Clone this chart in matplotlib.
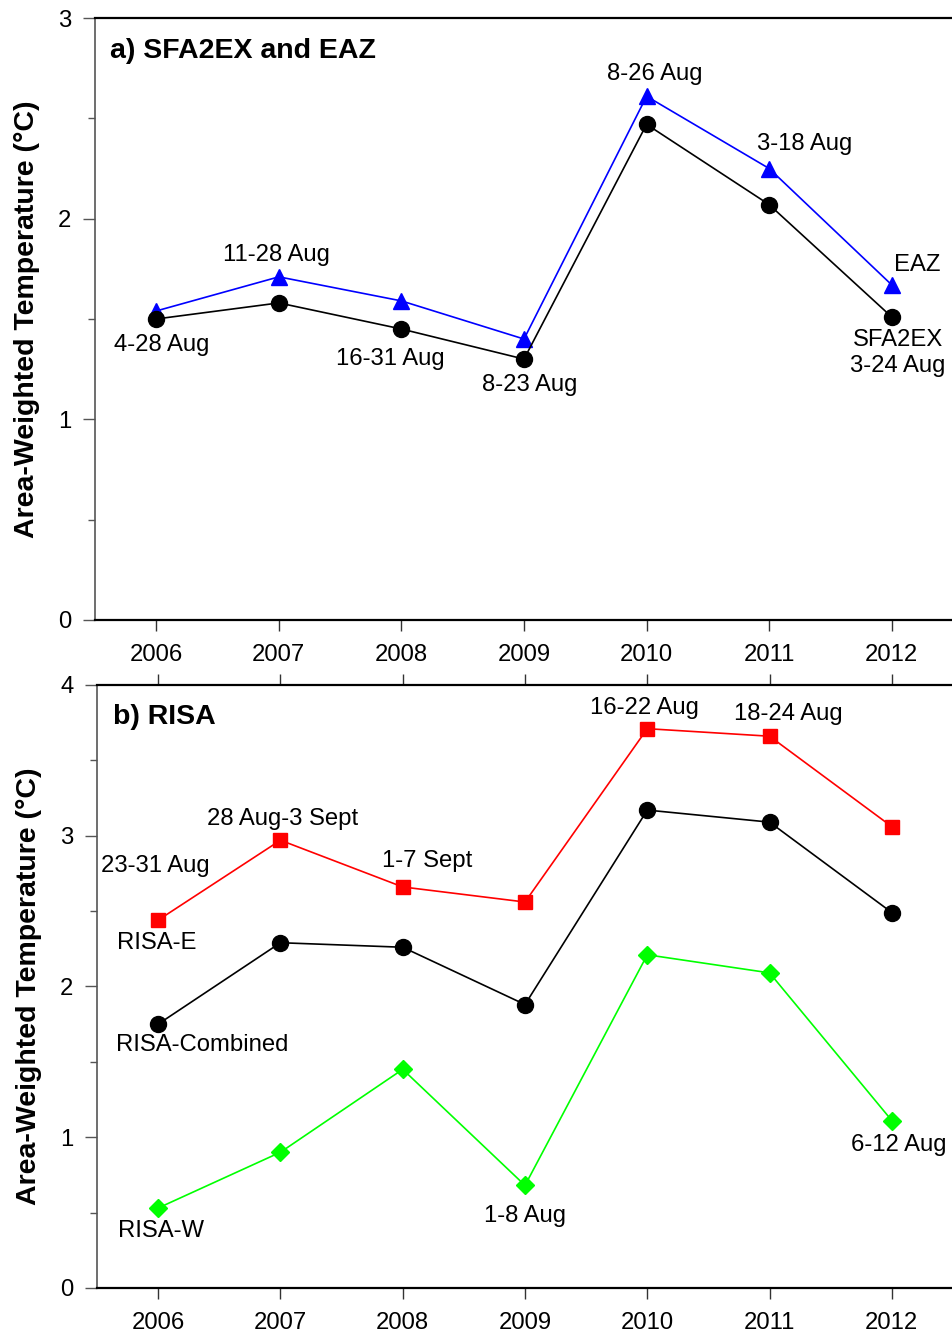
import matplotlib
matplotlib.use("Agg")
import matplotlib.pyplot as plt

plt.rcParams['font.family'] = ['Liberation Sans', 'DejaVu Sans']

years = [2006, 2007, 2008, 2009, 2010, 2011, 2012]

# panel a) SFA2EX and EAZ
sfa2ex = [1.50, 1.58, 1.45, 1.30, 2.47, 2.07, 1.51]
eaz = [1.54, 1.71, 1.59, 1.40, 2.61, 2.25, 1.67]

# panel b) RISA
risa_e = [2.44, 2.97, 2.66, 2.56, 3.71, 3.66, 3.06]
risa_comb = [1.75, 2.29, 2.26, 1.88, 3.17, 3.09, 2.49]
risa_w = [0.53, 0.90, 1.45, 0.68, 2.21, 2.09, 1.11]

labels_a = [("4-28 Aug", 2006.04, 1.37), ("11-28 Aug", 2006.98, 1.82),
            ("16-31 Aug", 2007.91, 1.30), ("8-23 Aug", 2009.05, 1.17),
            ("8-26 Aug", 2010.07, 2.72), ("3-18 Aug", 2011.29, 2.37),
            ("EAZ", 2012.21, 1.77), ("SFA2EX\n3-24 Aug", 2012.05, 1.33)]

labels_b = [("23-31 Aug", 2005.98, 2.80), ("28 Aug-3 Sept", 2007.02, 3.11),
            ("1-7 Sept", 2008.20, 2.83), ("16-22 Aug", 2009.98, 3.85),
            ("18-24 Aug", 2011.15, 3.81), ("RISA-E", 2005.99, 2.29),
            ("RISA-Combined", 2006.36, 1.61), ("RISA-W", 2006.02, 0.38),
            ("1-8 Aug", 2009.0, 0.48), ("6-12 Aug", 2012.06, 0.95)]

FS = 17.2
fig = plt.figure(figsize=(9.53, 13.36), dpi=100)
ax1 = fig.add_axes([0.0997, 0.536, 0.9003, 0.4505])
ax2 = fig.add_axes([0.1018, 0.036, 0.8982, 0.4513])


def style(ax, ymax, top_ticks):
    ax.set_xlim(2005.5, 2012.5)
    ax.set_ylim(0, ymax)
    ax.set_xticks(years)
    ax.set_yticks(range(ymax + 1))
    ax.set_yticks([i + 0.5 for i in range(ymax)], minor=True)
    ax.spines['right'].set_visible(False)
    ax.spines['left'].set_color('#555555')
    ax.spines['left'].set_linewidth(1.2)
    ax.spines['bottom'].set_linewidth(1.6)
    ax.spines['top'].set_linewidth(1.6)
    ax.tick_params(axis='x', direction='out', length=8, width=1.0,
                   labelsize=FS, pad=9, top=top_ticks, color='#333333')
    ax.tick_params(axis='y', which='major', direction='out', length=9,
                   width=1.0, labelsize=FS, pad=8, color='#555555')
    ax.tick_params(axis='y', which='minor', direction='out', length=5,
                   width=1.0, color='#555555')
    ax.set_ylabel("Area-Weighted Temperature (°C)", fontsize=20.5,
                  fontweight='bold', labelpad=13)


style(ax1, 3, False)
style(ax2, 4, True)

ax1.plot(years, eaz, color='#0000ff', lw=1.2, marker='^', ms=12,
         clip_on=False, zorder=3)
ax1.plot(years, sfa2ex, color='black', lw=1.2, marker='o', ms=11.5,
         clip_on=False, zorder=4)
for txt, x, y in labels_a:
    ax1.text(x, y, txt, fontsize=FS, ha='center', va='center',
             linespacing=1.2)
ax1.text(0.0175, 0.945, "a) SFA2EX and EAZ", transform=ax1.transAxes,
         fontsize=20.5, fontweight='bold', va='center')

ax2.plot(years, risa_e, color='#ff0000', lw=1.2, marker='s', ms=9.5,
         clip_on=False, zorder=3)
ax2.plot(years, risa_comb, color='black', lw=1.2, marker='o', ms=11.5,
         clip_on=False, zorder=3)
ax2.plot(years, risa_w, color='#00ff00', lw=1.2, marker='D', ms=9.5,
         clip_on=False, zorder=3)
for txt, x, y in labels_b:
    ax2.text(x, y, txt, fontsize=FS, ha='center', va='center')
ax2.text(0.019, 0.947, "b) RISA", transform=ax2.transAxes,
         fontsize=20.5, fontweight='bold', va='center')

fig.savefig("out.png", dpi=100)
